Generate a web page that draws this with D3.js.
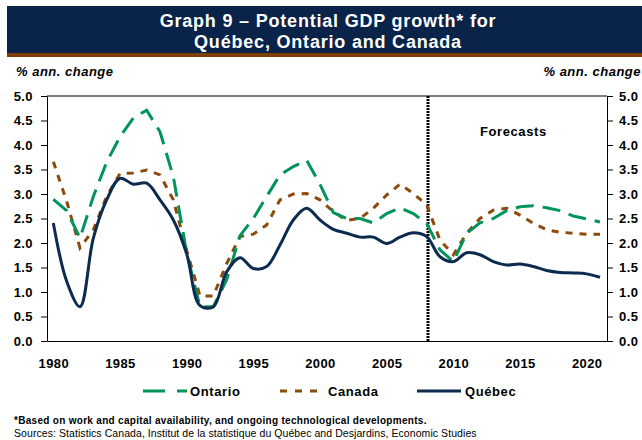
<!DOCTYPE html>
<html>
<head>
<meta charset="utf-8">
<script src="https://cdn.jsdelivr.net/npm/d3@7/dist/d3.min.js"></script>
<style>
    body { margin: 0; background: #fff; }
    svg { display: block; font-family: "Liberation Sans", Arial, sans-serif; }
    .axis text { font-size: 13px; font-weight: bold; fill: #000; letter-spacing: 0.4px; }
    .axis path, .axis line { stroke: #000; stroke-width: 1; }
</style>
</head>
<body>
<div id="chart-area"></div>
<script>
// Data
var years = d3.range(1980, 2022);

var quebec = [2.41, 1.22, 0.70, 2.10, 2.88, 3.32, 3.20, 3.22, 2.88, 2.47,
    1.78, 0.72, 0.70, 1.41, 1.70, 1.48, 1.52, 1.96, 2.47, 2.71,
    2.47, 2.28, 2.20, 2.12, 2.12, 1.99, 2.12, 2.21, 2.13, 1.72,
    1.62, 1.80, 1.76, 1.62, 1.55, 1.57, 1.52, 1.44, 1.40, 1.39,
    1.37, 1.30];

var ontario = [2.89, 2.66, 2.10, 2.95, 3.65, 4.17, 4.55, 4.71, 4.27, 3.35,
    1.80, 0.70, 0.70, 1.25, 2.15, 2.50, 2.95, 3.39, 3.56, 3.69,
    3.20, 2.62, 2.50, 2.50, 2.41, 2.60, 2.72, 2.60, 2.40, 1.86,
    1.62, 2.20, 2.41, 2.50, 2.66, 2.74, 2.76, 2.72, 2.66, 2.55,
    2.49, 2.43];

var canada = [3.66, 2.85, 1.90, 2.27, 2.95, 3.42, 3.43, 3.49, 3.39, 2.88,
    1.85, 0.92, 0.92, 1.58, 2.13, 2.18, 2.37, 2.88, 3.00, 3.01,
    2.88, 2.64, 2.46, 2.50, 2.71, 2.98, 3.20, 3.01, 2.78, 2.06,
    1.76, 2.20, 2.50, 2.67, 2.71, 2.57, 2.40, 2.27, 2.22, 2.20,
    2.18, 2.18];

var xTicks = [1980, 1985, 1990, 1995, 2000, 2005, 2010, 2015, 2020];
var yTicks = d3.range(0, 5.01, 0.5);
var forecastYear = 2008.1;

var margin = { left: 47, right: 35, top: 96, bottom: 99 },
    width = 642 - margin.left - margin.right,
    height = 440 - margin.top - margin.bottom;

var svg = d3.select("#chart-area").append("svg")
    .attr("width", 642)
    .attr("height", 440);

// Title band
svg.append("rect")
    .attr("x", 7).attr("y", 6)
    .attr("width", 635).attr("height", 47)
    .attr("fill", "#0a2349");
svg.append("rect")
    .attr("x", 7).attr("y", 53)
    .attr("width", 635).attr("height", 4)
    .attr("fill", "#7e3f04");

var title = svg.append("text")
    .attr("text-anchor", "middle")
    .attr("fill", "#fff")
    .attr("font-size", "18px")
    .attr("font-weight", "bold")
    .attr("letter-spacing", "0.8px");
title.append("tspan").attr("x", 328).attr("y", 27).text("Graph 9 \u2013 Potential GDP growth* for");
title.append("tspan").attr("x", 328).attr("y", 48).text("Qu\u00e9bec, Ontario and Canada");

// Units
svg.append("text")
    .attr("x", 16).attr("y", 76)
    .attr("font-size", "13px")
    .attr("font-weight", "bold")
    .attr("font-style", "italic")
    .attr("letter-spacing", "0.5px")
    .text("% ann. change");
svg.append("text")
    .attr("x", 641).attr("y", 76)
    .attr("text-anchor", "end")
    .attr("font-size", "13px")
    .attr("font-weight", "bold")
    .attr("font-style", "italic")
    .attr("letter-spacing", "0.5px")
    .text("% ann. change");

var g = svg.append("g")
    .attr("transform", "translate(" + margin.left + "," + margin.top + ")");

// Scales
var x = d3.scaleLinear().domain([1979.525, 2021.525]).range([0, width]);
var y = d3.scaleLinear().domain([0, 5]).range([height, 0]);

// Axes
g.append("g")
    .attr("class", "axis")
    .call(d3.axisLeft(y).tickValues(yTicks).tickFormat(d3.format(".1f"))
        .tickSize(6).tickSizeOuter(0).tickPadding(8));

g.append("g")
    .attr("class", "axis")
    .attr("transform", "translate(" + width + ",0)")
    .call(d3.axisRight(y).tickValues(yTicks).tickFormat(d3.format(".1f"))
        .tickSize(6).tickSizeOuter(0).tickPadding(6));

g.append("g")
    .attr("class", "axis")
    .attr("transform", "translate(0," + height + ")")
    .call(d3.axisBottom(x).tickValues(xTicks).tickFormat(d3.format("d"))
        .tickSize(0).tickPadding(18));

// top border
g.append("line")
    .attr("x1", 0).attr("x2", width)
    .attr("y1", 0).attr("y2", 0)
    .attr("stroke", "#000");

// Forecast divider
g.append("line")
    .attr("x1", x(forecastYear)).attr("x2", x(forecastYear))
    .attr("y1", 0).attr("y2", height)
    .attr("stroke", "#000")
    .attr("stroke-width", 3)
    .attr("stroke-dasharray", "2,1");

g.append("text")
    .attr("x", x(2014.5))
    .attr("y", 40)
    .attr("text-anchor", "middle")
    .attr("font-size", "13px")
    .attr("font-weight", "bold")
    .attr("letter-spacing", "0.6px")
    .text("Forecasts");

// Line generators
var line = d3.line()
    .x(function(d, i) { return x(years[i]); })
    .y(function(d) { return y(d); });

var smooth = d3.line()
    .x(function(d, i) { return x(years[i]); })
    .y(function(d) { return y(d); })
    .curve(d3.curveCatmullRom.alpha(0.5));

g.append("path")
    .attr("d", line(canada))
    .attr("fill", "none")
    .attr("stroke", "#8c4a0c")
    .attr("stroke-width", 3)
    .attr("stroke-dasharray", "7,7");

g.append("path")
    .attr("d", line(ontario))
    .attr("fill", "none")
    .attr("stroke", "#00945a")
    .attr("stroke-width", 3)
    .attr("stroke-dasharray", "18,9");

g.append("path")
    .attr("d", smooth(quebec))
    .attr("fill", "none")
    .attr("stroke", "#0d2a4f")
    .attr("stroke-width", 3);

// Legend
var legend = [
    { name: "Ontario", color: "#00945a", dash: "22,12", x1: 143, x2: 187, tx: 190 },
    { name: "Canada", color: "#8c4a0c", dash: "7,8", x1: 280, x2: 319, tx: 328 },
    { name: "Qu\u00e9bec", color: "#0d2a4f", dash: null, x1: 417, x2: 461, tx: 465 }
];

legend.forEach(function(l) {
    svg.append("line")
        .attr("x1", l.x1).attr("x2", l.x2)
        .attr("y1", 391).attr("y2", 391)
        .attr("stroke", l.color)
        .attr("stroke-width", 3)
        .attr("stroke-dasharray", l.dash);
    svg.append("text")
        .attr("x", l.tx).attr("y", 396)
        .attr("font-size", "13px")
        .attr("font-weight", "bold")
        .attr("letter-spacing", "0.6px")
        .text(l.name);
});

// Footnotes
svg.append("text")
    .attr("x", 14).attr("y", 424)
    .attr("font-size", "10px")
    .attr("font-weight", "bold")
    .attr("letter-spacing", "0.3px")
    .text("*Based on work and capital availability, and ongoing technological developments.");
svg.append("text")
    .attr("x", 14).attr("y", 437)
    .attr("font-size", "10.5px")
    .attr("letter-spacing", "0.07px")
    .text("Sources: Statistics Canada, Institut de la statistique du Qu\u00e9bec and Desjardins, Economic Studies");
</script>
</body>
</html>
